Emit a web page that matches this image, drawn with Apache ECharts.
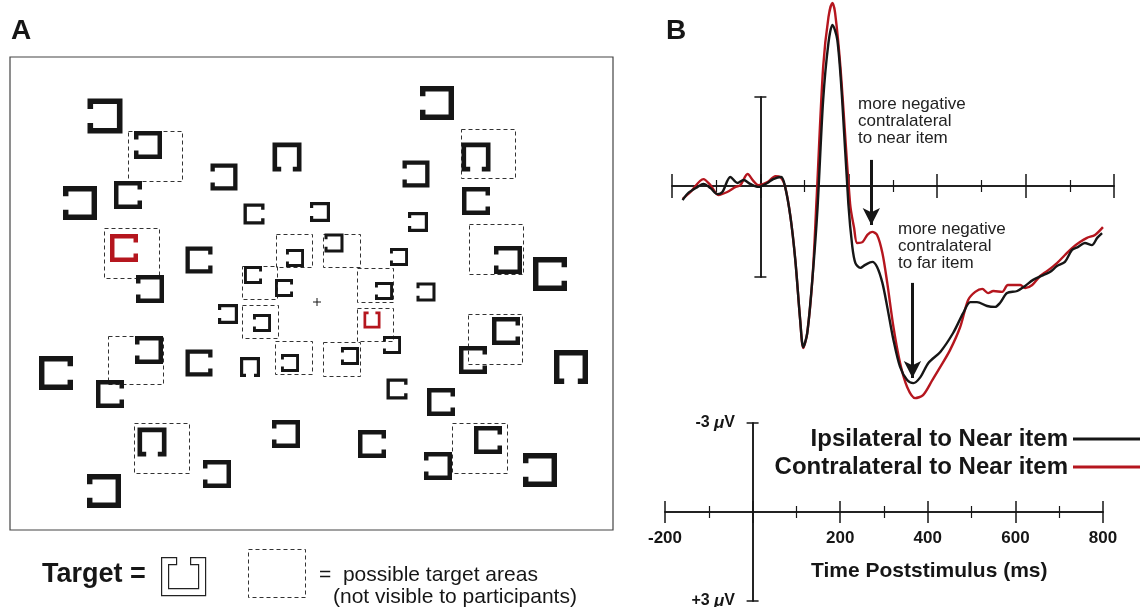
<!DOCTYPE html>
<html lang="en">
<head>
<meta charset="utf-8">
<title>Search display and ERP waveforms</title>
<script src="https://cdn.jsdelivr.net/npm/echarts@6/dist/echarts.min.js"></script>
<style>
  html, body { margin: 0; padding: 0; background: #fff; }
  #chart { width: 1140px; height: 607px; }
</style>
</head>
<body>
<div id="chart"></div>
<script>
// ---- panel A: search items, position from fixation (x right, y down), size, side of the gap
var blackItems = [
  [-212, -186, 35, 'L'], [-169, -157, 28, 'L'], [-93, -125, 27, 'L'], [-30, -145, 29, 'D'],
  [-237, -99, 34, 'L'], [-189, -107, 28, 'R'], [-63, -88, 21, 'R'], [3, -90, 20, 'L'],
  [-118, -42, 27, 'R'], [-167, -13, 28, 'L'], [-22, -44, 18, 'L'], [-64, -27, 18, 'R'],
  [-33, -14, 18, 'R'], [120, -199, 34, 'L'], [159, -145, 29, 'D'], [99, -128, 27, 'L'],
  [159, -101, 28, 'R'], [101, -80, 20, 'L'], [17, -59, 19, 'L'], [82, -45, 18, 'L'],
  [67, -11, 18, 'L'], [109, -10, 19, 'L'], [191, -42, 28, 'L'], [233, -28, 34, 'R'],
  [-89, 12, 20, 'L'], [-55, 21, 18, 'L'], [-168, 48, 28, 'L'], [-261, 71, 34, 'R'],
  [-207, 92, 28, 'R'], [-118, 61, 27, 'R'], [-67, 65, 20, 'D'], [-27, 61, 18, 'L'],
  [-31, 132, 28, 'L'], [-165, 140, 29, 'D'], [-100, 172, 28, 'L'], [-213, 189, 34, 'L'],
  [75, 43, 18, 'L'], [33, 54, 18, 'L'], [189, 29, 28, 'R'], [156, 58, 28, 'R'],
  [254, 65, 34, 'D'], [80, 87, 21, 'R'], [124, 100, 28, 'R'], [55, 142, 28, 'R'],
  [171, 138, 28, 'R'], [121, 164, 28, 'L'], [223, 168, 34, 'L']
];
var redItems = [[-193, -54, 28, 'R'], [55, 18, 17, 'U']];
// possible target areas: x0, y0, x1, y1
var targetAreas = [
  [-189, -171, -135, -121], [-213, -74, -158, -24], [-41, -68, -5, -35], [-75, -36, -40, -3],
  [6, -68, 43, -35], [40, -34, 76, 0], [144, -173, 198, -124], [152, -78, 206, -28],
  [-75, 3, -39, 36], [-209, 34, -154, 82], [-42, 39, -5, 72], [-183, 121, -128, 171],
  [40, 6, 76, 39], [6, 40, 43, 74], [151, 12, 205, 62], [135, 121, 190, 171]
];
var fixation = [[0, 0]];

// ---- panel B: waveforms, [ms, microvolts] (negative plotted up)
var ipsiNear = [
  [-176, 0.47], [-163, 0.23], [-142, 0.03], [-129, -0.07], [-113, 0.07], [-97, 0.27], [-86, 0.2],
  [-68, -0.3], [-52, -0.1], [-38, -0.2], [-23, -0.07], [-5, 0.03], [16, -0.1], [29, -0.23],
  [47, -0.3], [56, 0.03], [68, 1.03], [79, 2.47], [90, 4.47], [97, 5.37], [106, 4.9], [118, 3.03],
  [129, 0.8], [142, -2.87], [154, -4.77], [163, -5.37], [174, -4.87], [185, -2.87], [199, 0.6],
  [208, 2.03], [215, 2.57], [226, 2.73], [237, 2.63], [253, 2.53], [264, 2.7], [276, 3.23],
  [287, 4.03], [301, 5.13], [316, 6.03], [332, 6.47], [346, 6.57], [362, 6.37], [380, 5.9],
  [407, 5.53], [436, 4.9], [459, 4.23], [475, 3.87], [490, 3.87], [513, 4.0], [531, 4.03],
  [542, 3.9], [558, 3.57], [581, 3.5], [599, 3.33], [617, 3.13], [640, 2.97], [655, 2.87],
  [671, 2.67], [689, 2.53], [705, 2.13], [719, 2.03], [734, 1.9], [750, 1.97], [762, 1.73],
  [773, 1.57]
];
var contraNear = [
  [-176, 0.43], [-158, 0.2], [-129, -0.23], [-113, -0.03], [-95, 0.3], [-75, 0.2], [-56, 0.03],
  [-45, -0.03], [-29, -0.4], [-16, -0.17], [-5, -0.03], [16, -0.13], [34, -0.33], [45, -0.3],
  [56, 0.03], [68, 1.03], [79, 2.47], [90, 4.47], [97, 5.4], [106, 4.9], [118, 3.03], [127, 0.47],
  [142, -3.97], [154, -5.63], [163, -6.1], [169, -5.77], [181, -3.97], [203, 0.6], [212, 1.4],
  [219, 1.9], [231, 1.87], [242, 1.63], [253, 1.53], [264, 1.63], [276, 2.23], [287, 3.23],
  [301, 4.7], [316, 5.9], [332, 6.7], [350, 7.07], [368, 6.97], [389, 6.47], [407, 6.03],
  [429, 5.47], [452, 4.7], [470, 3.8], [486, 3.53], [502, 3.43], [515, 3.57], [527, 3.5],
  [547, 3.53], [560, 3.3], [588, 3.3], [599, 3.4], [615, 3.3], [633, 3.0], [649, 2.83],
  [671, 2.57], [689, 2.3], [705, 2.07], [723, 1.87], [739, 1.73], [757, 1.63], [775, 1.37]
];
// annotation arrows: time, start, tip (microvolts)
var arrowTimes = [251, 344];
var arrowStart = [-0.87, 3.23];
var arrowEnd = [1.3, 6.4];
var noteNear = 'more negative\ncontralateral\nto near item';
var noteFar = 'more negative\ncontralateral\nto far item';

var FONT = '"Liberation Sans", Arial, Helvetica, sans-serif';
var INK = '#161616';
var RED = '#b5161e';

var gapTurns = { R: 0, D: 1, L: 2, U: 3 };

function bracketData(list) {
  return list.map(function (d) { return [d[0], d[1], d[2], gapTurns[d[3]]]; });
}

function bracket(color) {
  return function (params, api) {
    var c = api.coord([api.value(0), api.value(1)]);
    var s = api.size([api.value(2), 0])[0];
    var w = s * 0.16, h = s / 2 - w / 2, g = s * 0.2;
    var pts = [[h, -g], [h, -h], [-h, -h], [-h, h], [h, h], [h, g]];
    var k = api.value(3);
    pts = pts.map(function (p) {
      var x = p[0], y = p[1];
      for (var i = 0; i < k; i++) { var t = x; x = -y; y = t; }
      return [c[0] + x, c[1] + y];
    });
    return {
      type: 'polyline',
      shape: { points: pts },
      style: { stroke: color, lineWidth: w, fill: 'none', lineJoin: 'miter', lineCap: 'butt' }
    };
  };
}

function areaBox(params, api) {
  var p0 = api.coord([api.value(0), api.value(1)]);
  var p1 = api.coord([api.value(2), api.value(3)]);
  return {
    type: 'rect',
    shape: { x: Math.round(p0[0]) + 0.5, y: Math.round(p0[1]) + 0.5,
             width: Math.round(p1[0] - p0[0]), height: Math.round(p1[1] - p0[1]) },
    style: { fill: 'none', stroke: '#333', lineWidth: 1, lineDash: [4, 3] }
  };
}

function cross(params, api) {
  var c = api.coord([api.value(0), api.value(1)]);
  return {
    type: 'group',
    children: [
      { type: 'line', shape: { x1: c[0] - 4, y1: c[1], x2: c[0] + 4, y2: c[1] }, style: { stroke: INK, lineWidth: 1 } },
      { type: 'line', shape: { x1: c[0], y1: c[1] - 4, x2: c[0], y2: c[1] + 4 }, style: { stroke: INK, lineWidth: 1 } }
    ]
  };
}

var arrowData = arrowTimes.map(function (t, i) {
  return [{ coord: [t, arrowStart[i]] }, { coord: [t, arrowEnd[i]] }];
});

var hidden = { show: false };

// time axis drawn on the zero line (line and ticks only)
function timeAxis(gridIndex, position, yIndex, majorLen, minorLen) {
  return {
    type: 'value', gridIndex: gridIndex, position: position,
    min: -200, max: 800, interval: 200,
    axisLine: { show: true, onZero: true, onZeroAxisIndex: yIndex, lineStyle: { color: INK, width: 1.5 } },
    axisTick: { show: true, length: majorLen, lineStyle: { color: INK, width: 1.5 } },
    minorTick: { show: true, splitNumber: 2, length: minorLen, lineStyle: { color: INK, width: 1.2 } },
    splitLine: hidden, axisLabel: hidden
  };
}

// microvolt bar on the time zero line (line and end caps only)
function barAxis(gridIndex, position, xIndex) {
  return {
    type: 'value', gridIndex: gridIndex, position: position, inverse: true,
    min: -3, max: 3, interval: 6,
    axisLine: { show: true, onZero: true, onZeroAxisIndex: xIndex, lineStyle: { color: INK, width: 1.5 } },
    axisTick: { show: true, length: 6, lineStyle: { color: INK, width: 1.5 } },
    splitLine: hidden, axisLabel: hidden
  };
}

var chart = echarts.init(document.getElementById('chart'));
var option = {
  animation: false,
  backgroundColor: '#fff',
  textStyle: { fontFamily: FONT },
  grid: [
    { left: 10, top: 57, width: 603, height: 473, show: true, borderColor: '#444', borderWidth: 1.2, backgroundColor: 'transparent', outerBoundsMode: 'none' },
    { left: 672, top: 0, width: 442, height: 411, outerBoundsMode: 'none' },
    { left: 672, top: 97, width: 442, height: 180, outerBoundsMode: 'none' },
    { left: 665, top: 423, width: 438, height: 178, outerBoundsMode: 'none' },
    { left: 665, top: 423, width: 438, height: 88, outerBoundsMode: 'none' },
    { left: 752, top: 423, width: 351, height: 178, outerBoundsMode: 'none' }
  ],
  xAxis: [
    { type: 'value', gridIndex: 0, min: -307, max: 296, show: false },
    timeAxis(1, 'bottom', 1, 12, 6),
    timeAxis(1, 'top', 1, 12, 6),
    { type: 'value', gridIndex: 2, min: -200, max: 800, show: false },
    timeAxis(3, 'bottom', 4, 11, 6),
    timeAxis(3, 'top', 4, 11, 6),
    {
      type: 'value', gridIndex: 4, position: 'bottom', min: -200, max: 800, interval: 200,
      axisLine: { show: false, onZero: false }, axisTick: hidden, splitLine: hidden,
      axisLabel: {
        show: true, margin: 19, color: INK, fontSize: 17, fontWeight: 'bold', fontFamily: FONT,
        formatter: function (v) { return v === 0 ? '' : String(v); }
      }
    },
    { type: 'value', gridIndex: 5, min: 0, max: 800, show: false }
  ],
  yAxis: [
    { type: 'value', gridIndex: 0, min: -245, max: 228, inverse: true, show: false },
    { type: 'value', gridIndex: 1, min: -6.2, max: 7.5, inverse: true, show: false },
    barAxis(2, 'left', 3),
    barAxis(2, 'right', 3),
    barAxis(3, 'left', 4),
    barAxis(3, 'right', 4),
    { type: 'value', gridIndex: 4, min: -3, max: 0, show: false },
    {
      type: 'value', gridIndex: 5, position: 'left', inverse: true, min: -3, max: 3, interval: 6,
      axisLine: { show: false, onZero: false }, axisTick: hidden, splitLine: hidden,
      axisLabel: {
        show: true, margin: 17, color: INK, fontSize: 16, fontWeight: 'bold', fontFamily: FONT,
        formatter: function (v) { return (v < 0 ? '-' : '+') + Math.abs(v) + ' {mu|\u03bc}V'; },
        rich: { mu: { fontStyle: 'italic', fontWeight: 'bold', fontSize: 17, fontFamily: FONT, color: INK } }
      }
    }
  ],
  legend: {
    data: ['Ipsilateral to Near item', 'Contralateral to Near item'],
    orient: 'vertical', right: 0, top: 427, align: 'right', icon: 'rect', padding: 0,
    itemWidth: 67, itemHeight: 3, itemGap: 4, selectedMode: false,
    textStyle: { fontSize: 24, fontWeight: 'bold', color: INK, fontFamily: FONT }
  },
  series: [
    { type: 'custom', xAxisIndex: 0, yAxisIndex: 0, renderItem: areaBox, data: targetAreas, silent: true },
    { type: 'custom', xAxisIndex: 0, yAxisIndex: 0, renderItem: bracket(INK), data: bracketData(blackItems), silent: true },
    { type: 'custom', xAxisIndex: 0, yAxisIndex: 0, renderItem: bracket(RED), data: bracketData(redItems), silent: true },
    { type: 'custom', xAxisIndex: 0, yAxisIndex: 0, renderItem: cross, data: fixation, silent: true },
    {
      name: 'Contralateral to Near item', type: 'line', xAxisIndex: 1, yAxisIndex: 1,
      data: contraNear, symbol: 'none', smooth: 0.3, clip: false,
      lineStyle: { color: RED, width: 2.4 }, itemStyle: { color: RED }
    },
    {
      name: 'Ipsilateral to Near item', type: 'line', xAxisIndex: 1, yAxisIndex: 1,
      data: ipsiNear, symbol: 'none', smooth: 0.3, clip: false,
      lineStyle: { color: INK, width: 2.4 }, itemStyle: { color: INK },
      markLine: {
        silent: true, symbol: ['none', 'arrow'], symbolSize: [13, 17],
        label: { show: false }, lineStyle: { color: INK, width: 3, type: 'solid' },
        data: arrowData
      }
    }
  ],
  graphic: [
    { type: 'text', left: 11, top: 17, style: { text: 'A', fontSize: 28, fontWeight: 'bold', fontFamily: FONT, fill: INK } },
    { type: 'text', left: 666, top: 17, style: { text: 'B', fontSize: 28, fontWeight: 'bold', fontFamily: FONT, fill: INK } },
    { type: 'text', left: 858, top: 96, style: { text: noteNear, fontSize: 17, lineHeight: 17, fontFamily: FONT, fill: '#222' } },
    { type: 'text', left: 898, top: 221, style: { text: noteFar, fontSize: 17, lineHeight: 17, fontFamily: FONT, fill: '#222' } },
    { type: 'text', left: 811, top: 561, style: { text: 'Time Poststimulus (ms)', fontSize: 21, fontWeight: 'bold', fontFamily: FONT, fill: INK } },
    { type: 'text', left: 42, top: 561, style: { text: 'Target =', fontSize: 27, fontWeight: 'bold', fontFamily: FONT, fill: INK } },
    {
      type: 'polygon', left: 161, top: 557,
      shape: { points: [[0, 0], [15, 0], [15, 7], [7, 7], [7, 31], [37, 31], [37, 7], [29, 7], [29, 0], [44, 0], [44, 38], [0, 38]] },
      style: { fill: '#fff', stroke: '#222', lineWidth: 1.2 }
    },
    {
      type: 'rect', left: 246, top: 547,
      shape: { x: 0.5, y: 0.5, width: 57, height: 48 },
      style: { fill: 'none', stroke: '#333', lineWidth: 1, lineDash: [4, 3] }
    },
    { type: 'text', left: 319, top: 565, style: { text: '=  possible target areas', fontSize: 21, fontFamily: FONT, fill: INK } },
    { type: 'text', left: 333, top: 587, style: { text: '(not visible to participants)', fontSize: 21, fontFamily: FONT, fill: INK } }
  ]
};
chart.setOption(option);
</script>
</body>
</html>
